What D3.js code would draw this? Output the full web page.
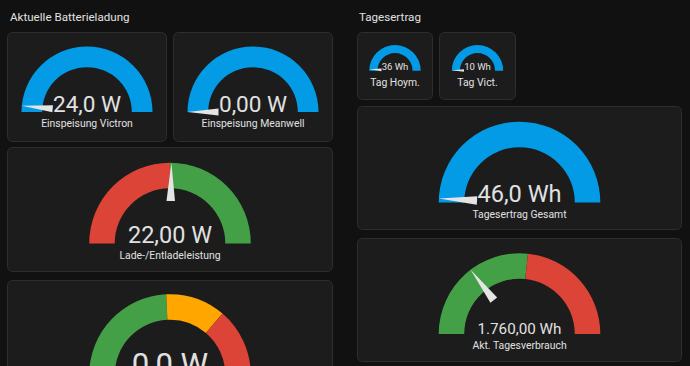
<!DOCTYPE html>
<html>
<head>
<meta charset="utf-8">
<script src="https://cdn.jsdelivr.net/npm/d3@7"></script>
<style>
  html, body { margin: 0; padding: 0; background: #111111; }
  svg { display: block; font-family: Roboto, "Noto Sans", sans-serif; }
</style>
</head>
<body>
<svg id="chart" width="690" height="366"></svg>
<script>
// ---------- data ----------
const sectionTitles = ["Aktuelle Batterieladung", "Tagesertrag"];
const gaugeNames = ["Einspeisung Victron", "Einspeisung Meanwell", "Lade-/Entladeleistung", "",
                    "Tag Hoym.", "Tag Vict.", "Tagesertrag Gesamt", "Akt. Tagesverbrauch"];
const gaugeValues = [24.0, 0.0, 22.0, 0.0, 36, 10, 46.0, 1760];
const gaugeDisplay = ["24,0 W", "0,00 W", "22,00 W", "0,0 W", "36 Wh", "10 Wh", "46,0 Wh", "1.760,00 Wh"];
const gaugeMin = [0, 0, -2000, 0, 0, 0, 0, 0];
const gaugeMax = [800, 800, 2000, 1000, 2000, 2000, 3000, 6000];
// segments: [start value, severity]
const gaugeSegments = [
  [[0, "primary"]],
  [[0, "primary"]],
  [[-2000, "error"], [0, "success"]],
  [[0, "success"], [485, "warning"], [725, "error"]],
  [[0, "primary"]],
  [[0, "primary"]],
  [[0, "primary"]],
  [[0, "success"], [3200, "error"]]
];

// ---------- styles / layout ----------
const severityColor = { primary: "#039be5", success: "#43a047", warning: "#ffa600", error: "#db4437" };
const cards = [
  { x: 7,   y: 32,  w: 160, h: 110, r: 65.5, cyOff: 80 },
  { x: 173, y: 32,  w: 160, h: 110, r: 65.5, cyOff: 80 },
  { x: 7,   y: 147, w: 326, h: 125, r: 80.8, cyOff: 96.5 },
  { x: 7,   y: 280, w: 326, h: 110, r: 80.8, cyOff: 95 },
  { x: 357, y: 32,  w: 76,  h: 68,  r: 25.7, cyOff: 38.7 },
  { x: 439, y: 32,  w: 77,  h: 68,  r: 25.7, cyOff: 38.7 },
  { x: 357, y: 106, w: 325, h: 124, r: 80.8, cyOff: 96.5 },
  { x: 357, y: 238, w: 325, h: 124, r: 80.8, cyOff: 96 }
];
const titlePos = [{ x: 10, y: 21 }, { x: 359, y: 21 }];
const textColor = "#e1e1e1";

const svg = d3.select("#chart");
svg.append("rect").attr("width", 690).attr("height", 366).attr("fill", "#111111");

svg.selectAll("text.title").data(sectionTitles).join("text")
  .attr("class", "title")
  .attr("x", (d, i) => titlePos[i].x).attr("y", (d, i) => titlePos[i].y)
  .attr("fill", textColor).attr("font-size", 11.6).text(d => d);

gaugeValues.forEach((val, i) => {
  const c = cards[i];
  const g = svg.append("g");
  g.append("rect")
    .attr("x", c.x + 0.5).attr("y", c.y + 0.5).attr("width", c.w - 1).attr("height", c.h - 1)
    .attr("rx", 5).attr("fill", "#1c1c1c").attr("stroke", "#2e2e2e").attr("stroke-width", 1);

  const cx = c.x + c.w / 2, cy = c.y + c.cyOff, r = c.r, ri = r * 32.5 / 47.5;
  const scale = d3.scaleLinear().domain([gaugeMin[i], gaugeMax[i]]).range([-Math.PI / 2, Math.PI / 2]).clamp(true);
  const arc = d3.arc().innerRadius(ri).outerRadius(r);
  const segs = gaugeSegments[i];
  const gg = g.append("g").attr("transform", `translate(${cx},${cy})`);
  segs.forEach((s, k) => {
    const end = k + 1 < segs.length ? segs[k + 1][0] : gaugeMax[i];
    gg.append("path")
      .attr("d", arc({ startAngle: scale(s[0]), endAngle: scale(end) }))
      .attr("fill", severityColor[s[1]]);
  });

  // needle
  const a = scale(val);
  const pt = (rho, off) => [rho * Math.sin(a) + off * Math.cos(a), -rho * Math.cos(a) + off * Math.sin(a)];
  const rb = r * 25 / 47.5, hw = r * 2.5 / 47.5;
  gg.append("path")
    .attr("d", d3.line()([pt(rb, -hw), pt(r, 0), pt(rb, hw)]) + "Z")
    .attr("fill", "#e4e4e4");

  // value text, fitted
  const vt = gg.append("text").attr("x", 0).attr("y", -0.5)
    .attr("text-anchor", "middle").attr("fill", textColor).text(gaugeDisplay[i]);
  let fs = 0.385 * r;
  vt.attr("font-size", fs);
  const w = vt.node().getComputedTextLength();
  if (w > 1.04 * r) { fs = fs * 1.04 * r / w; vt.attr("font-size", fs); }

  if (gaugeNames[i]) {
    gg.append("text").attr("x", 0).attr("y", 15.4)
      .attr("text-anchor", "middle").attr("fill", textColor)
      .attr("font-size", 10.4).text(gaugeNames[i]);
  }
});
</script>
</body>
</html>
